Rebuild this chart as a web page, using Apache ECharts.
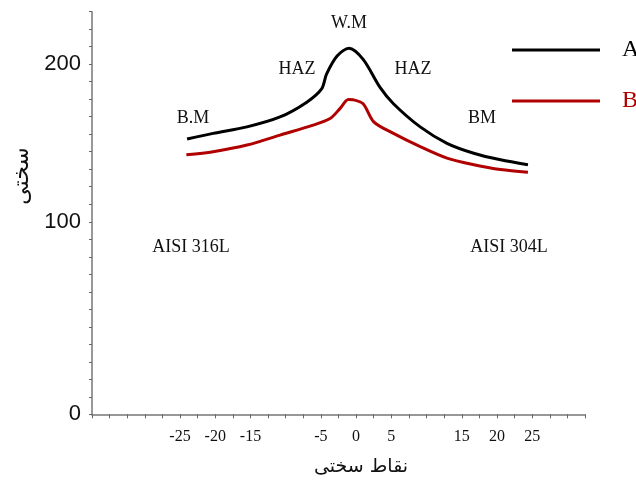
<!DOCTYPE html>
<html><head><meta charset="utf-8">
<script src="https://cdn.jsdelivr.net/npm/echarts@6/dist/echarts.min.js"></script>
<style>html,body{margin:0;padding:0;background:#fff}#c{width:636px;height:486px}</style>
</head><body><div id="c"></div>
<script>
// Series A (black)
const aX = [-24.0, -20.3, -15.5, -10.8, -7.0, -4.9, -4.2, -2.7, -1.0, 1.0, 3.4, 5.3, 9.1, 12.9, 16.7, 20.5, 24.4];
const aH = [152.5, 156.1, 160.2, 166.5, 175.9, 184.3, 193.7, 205.2, 210.2, 203.1, 185.3, 174.9, 160.2, 149.8, 143.5, 139.3, 136.2];
// Series B (red)
const bX = [-24.1, -20.3, -15.5, -10.8, -6.1, -3.7, -2.3, -1.1, -0.4, 1.0, 2.5, 5.3, 9.1, 12.9, 16.7, 20.5, 24.4];
const bH = [142.5, 144.5, 148.7, 155.0, 161.3, 165.5, 171.8, 177.6, 177.4, 174.9, 163.4, 156.1, 147.7, 140.4, 136.2, 133.1, 131.4];
// Tick labels
const xTickLabels = [-25, -20, -15, -5, 0, 5, 15, 20, 25];
const yTickLabels = [0, 100, 200];
// the original figure's y labels sit on these minor-tick positions (uneven scale)
const yTickSteps = [0, 11, 20];
const seriesNames = ['A', 'B'];

function toStep(h) {
  const L = yTickLabels, S = yTickSteps;
  let i = 0;
  while (i < L.length - 2 && h > L[i + 1]) i++;
  return S[i] + (h - L[i]) * (S[i + 1] - S[i]) / (L[i + 1] - L[i]);
}
const aData = aX.map((x, i) => [x, toStep(aH[i])]);
const bData = bX.map((x, i) => [x, toStep(bH[i])]);

const serif = '"Liberation Serif","DejaVu Serif",serif';
const chart = echarts.init(document.getElementById('c'));
function txt(t, x, y, size, color) {
  return { type: 'text', x: x, y: y, style: { text: t, fill: color || '#111', font: size + 'px ' + serif, align: 'center', verticalAlign: 'middle' } };
}
chart.setOption({
  animation: false,
  backgroundColor: '#fff',
  grid: { left: 92, right: 51, top: 11.7, bottom: 71.7, containLabel: false },
  legend: {
    orient: 'vertical', left: 507, top: 33, itemWidth: 88, itemHeight: 3, itemGap: 27, icon: 'rect',
    data: [
      { name: seriesNames[0], textStyle: { color: '#000' } },
      { name: seriesNames[1], textStyle: { color: '#b00000' } }
    ],
    textStyle: { fontFamily: serif, fontSize: 24, padding: [0, 0, 0, 17] }
  },
  xAxis: {
    type: 'value', min: -37.5, max: 32.5, interval: 2.5,
    axisLine: { onZero: false, lineStyle: { color: '#777', width: 1.5 } },
    axisTick: { show: true, length: 4, lineStyle: { color: '#666' } },
    splitLine: { show: false },
    axisLabel: {
      margin: 14, color: '#111', fontFamily: serif, fontSize: 16,
      formatter: v => xTickLabels.some(t => Math.abs(t - v) < 1e-6) ? String(v) : ''
    }
  },
  yAxis: {
    type: 'value', min: 0, max: 23, interval: 1,
    axisLine: { show: true, onZero: false, lineStyle: { color: '#777', width: 1.5 } },
    axisTick: { show: true, length: 3, lineStyle: { color: '#666' } },
    splitLine: { show: false },
    axisLabel: {
      margin: 11, color: '#111', fontFamily: '"Liberation Sans",Arial,sans-serif', fontSize: 22,
      formatter: v => { const k = yTickSteps.indexOf(Math.round(v)); return (k >= 0 && Math.abs(v - Math.round(v)) < 1e-6) ? String(yTickLabels[k]) : ''; }
    }
  },
  series: [
    { name: seriesNames[0], type: 'line', data: aData, smooth: 0.3, showSymbol: false, symbol: 'none',
      lineStyle: { color: '#000', width: 3 }, itemStyle: { color: '#000' } },
    { name: seriesNames[1], type: 'line', data: bData, smooth: 0.3, showSymbol: false, symbol: 'none',
      lineStyle: { color: '#b00000', width: 3 }, itemStyle: { color: '#b00000' } }
  ],
  graphic: [
    txt('W.M', 349, 23, 18),
    txt('HAZ', 297, 69, 18),
    txt('HAZ', 413, 69, 18),
    txt('B.M', 193, 118, 18),
    txt('BM', 482, 118, 18),
    txt('AISI 316L', 191, 247, 18),
    txt('AISI 304L', 509, 247, 18),
    { type: 'text', x: 22, y: 176, rotation: Math.PI / 2,
      style: { text: 'سختی', fill: '#111', font: '22px "DejaVu Sans",sans-serif', align: 'center', verticalAlign: 'middle' } },
    { type: 'text', x: 361, y: 467,
      style: { text: 'نقاط سختی', fill: '#111', font: '19px "DejaVu Sans",sans-serif', align: 'center', verticalAlign: 'middle' } }
  ]
});
</script>
</body></html>
